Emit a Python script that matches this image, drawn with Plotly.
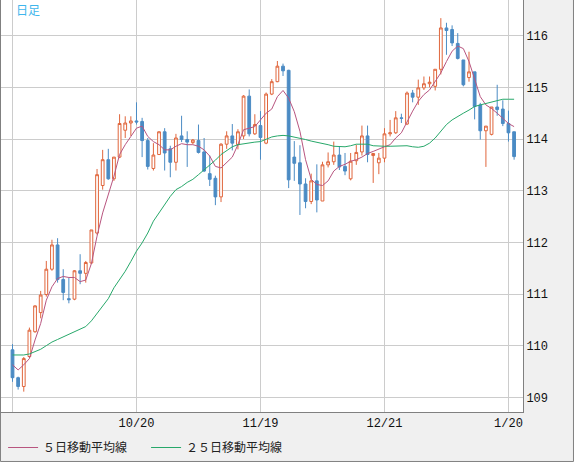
import plotly.graph_objects as go

# daily candles (index 0..89)
opens = [109.92, 109.38, 109.21, 109.79, 110.27, 110.64, 110.99, 111.48, 111.95, 111.28,
         110.91, 110.90, 111.45, 111.40, 111.60, 112.18, 113.10, 113.60, 113.23, 113.65,
         114.17, 114.31, 114.35, 114.34, 113.97, 113.43, 113.70, 114.14, 113.81, 113.55,
         114.06, 113.99, 113.93, 113.97, 113.75, 113.33, 113.24, 112.88, 113.90, 114.06,
         113.89, 114.06, 114.83, 114.10, 114.26, 113.92, 114.87, 115.11, 115.41, 115.33,
         113.65, 113.54, 113.13, 112.79, 113.19, 112.80, 113.50, 113.56, 113.69, 113.47,
         113.23, 113.58, 113.75, 114.06, 113.68, 113.54, 113.63, 114.10, 114.12, 114.41,
         114.29, 114.89, 114.81, 114.99, 115.07, 115.02, 115.35, 116.15, 116.12, 115.85,
         115.53, 115.19, 115.30, 114.66, 114.16, 114.09, 114.62, 114.58, 114.30, 114.14]
highs = [110.03, 109.40, 109.78, 110.35, 110.78, 111.06, 111.64, 112.05, 112.08, 111.48,
         111.32, 111.46, 111.77, 111.64, 112.24, 113.42, 113.79, 113.81, 113.65, 114.48,
         114.44, 114.44, 114.71, 114.41, 114.02, 113.92, 114.15, 114.21, 113.87, 114.10,
         114.45, 114.15, 114.00, 114.28, 114.02, 113.68, 113.29, 113.92, 114.15, 114.29,
         114.19, 114.85, 114.96, 114.48, 114.54, 114.90, 115.16, 115.51, 115.46, 115.34,
         113.96, 113.88, 113.24, 113.33, 113.51, 113.56, 113.74, 113.95, 113.86, 113.73,
         113.73, 113.89, 114.26, 114.26, 113.72, 113.73, 114.21, 114.37, 114.54, 114.49,
         114.92, 114.95, 115.15, 115.21, 115.21, 115.35, 116.34, 116.25, 116.20, 116.05,
         115.53, 115.69, 115.30, 114.70, 114.25, 114.62, 115.05, 114.75, 114.55, 114.14]
lows = [109.30, 109.15, 109.11, 109.76, 110.25, 110.53, 110.95, 111.45, 111.22, 110.88,
        110.82, 110.88, 111.19, 111.22, 111.58, 112.15, 113.02, 113.21, 113.19, 113.63,
        114.02, 114.06, 114.28, 113.65, 113.41, 113.39, 113.69, 113.39, 113.26, 113.39,
        113.94, 113.46, 113.90, 113.72, 113.36, 113.09, 112.72, 112.78, 113.81, 113.78,
        113.80, 114.00, 114.05, 114.08, 113.60, 113.90, 114.85, 115.10, 115.22, 113.05,
        113.19, 112.53, 112.66, 112.74, 112.58, 112.80, 113.45, 113.50, 113.40, 113.30,
        113.20, 113.50, 113.68, 113.55, 113.15, 113.32, 113.55, 114.05, 114.10, 114.31,
        114.27, 114.71, 114.66, 114.95, 115.00, 114.94, 115.25, 115.63, 115.80, 115.54,
        115.02, 115.11, 114.38, 113.99, 113.46, 114.07, 114.45, 114.25, 113.95, 113.60]
closes = [109.38, 109.21, 109.75, 110.30, 110.77, 110.98, 111.48, 111.95, 111.28, 111.03,
          110.89, 111.45, 111.40, 111.61, 112.24, 113.31, 113.60, 113.23, 113.65, 114.30,
          114.31, 114.35, 114.33, 113.97, 113.47, 113.69, 114.14, 113.73, 113.55, 114.02,
          113.99, 113.94, 113.98, 113.74, 113.38, 113.22, 112.88, 113.90, 114.06, 113.92,
          114.14, 114.83, 114.10, 114.28, 114.03, 114.87, 115.11, 115.41, 115.32, 113.21,
          113.53, 113.13, 112.79, 113.19, 112.82, 113.50, 113.56, 113.69, 113.46, 113.38,
          113.57, 113.74, 114.06, 113.70, 113.72, 113.63, 114.10, 114.12, 114.41, 114.40,
          114.89, 114.81, 114.99, 115.07, 115.10, 115.35, 116.15, 116.10, 115.86, 115.56,
          115.05, 115.30, 114.63, 114.16, 114.25, 114.62, 114.57, 114.30, 114.12, 113.66]

# moving averages as drawn on the chart
ma5 = [109.63, 109.53, 109.63, 109.75, 110.11, 110.43, 110.88, 111.14, 111.30, 111.34,
       111.32, 111.32, 111.24, 111.27, 111.59, 112.12, 112.57, 112.92, 113.28, 113.70,
       113.89, 114.05, 114.21, 114.25, 114.05, 113.95, 113.89, 113.79, 113.79, 113.86,
       113.91, 113.89, 113.89, 113.86, 113.79, 113.67, 113.47, 113.44, 113.54, 113.65,
       113.89, 114.18, 114.21, 114.24, 114.37, 114.50, 114.58, 114.82, 114.94, 114.79,
       114.53, 114.15, 113.60, 113.22, 113.12, 113.10, 113.19, 113.38, 113.47, 113.51,
       113.57, 113.60, 113.65, 113.72, 113.76, 113.81, 113.85, 113.89, 114.02, 114.12,
       114.34, 114.54, 114.73, 114.86, 114.95, 115.12, 115.28, 115.50, 115.70, 115.80,
       115.75, 115.50, 115.14, 114.82, 114.66, 114.59, 114.50, 114.40, 114.30, 114.24]
ma25 = [109.82, 109.82, 109.82, 109.84, 109.88, 109.93, 110.00, 110.07, 110.12, 110.17,
        110.21, 110.26, 110.31, 110.37, 110.48, 110.62, 110.77, 110.91, 111.12, 111.28,
        111.44, 111.63, 111.83, 111.99, 112.18, 112.41, 112.57, 112.73, 112.89, 113.02,
        113.08, 113.16, 113.22, 113.31, 113.40, 113.49, 113.59, 113.70, 113.78, 113.85,
        113.89, 113.91, 113.92, 113.94, 113.95, 113.99, 114.04, 114.06, 114.07, 114.06,
        114.04, 114.01, 113.99, 113.96, 113.94, 113.92, 113.89, 113.86, 113.85, 113.85,
        113.87, 113.90, 113.90, 113.90, 113.87, 113.86, 113.86, 113.86, 113.86, 113.87,
        113.87, 113.85, 113.84, 113.86, 113.92, 114.02, 114.15, 114.28, 114.37, 114.44,
        114.50, 114.56, 114.63, 114.66, 114.69, 114.72, 114.75, 114.77, 114.77, 114.77]

idx = list(range(len(closes)))

tick_pos = [0, 22, 44, 66, 88]
tick_text = ["", "10/20", "11/19", "12/21", "1/20"]
price_ticks = [109, 110, 111, 112, 113, 114, 115, 116]

UP = "#e0663c"
DOWN = "#4b8bc4"
MA5_COLOR = "#b8557f"
MA25_COLOR = "#27a86a"
GRID = "#cccccc"
EDGE = "#808080"

fig = go.Figure()
fig.add_trace(go.Candlestick(
    x=idx, open=opens, high=highs, low=lows, close=closes,
    increasing=dict(line=dict(color=UP, width=1), fillcolor="white"),
    decreasing=dict(line=dict(color=DOWN, width=1), fillcolor=DOWN),
    whiskerwidth=0, showlegend=False, hoverinfo="skip"))
fig.add_trace(go.Scatter(x=idx, y=ma5, mode="lines", name="５日移動平均線",
                         line=dict(color=MA5_COLOR, width=1)))
fig.add_trace(go.Scatter(x=idx, y=ma25, mode="lines", name="２５日移動平均線",
                         line=dict(color=MA25_COLOR, width=1)))

tick_font = dict(family="Liberation Mono, DejaVu Sans Mono", size=12, color="#111111")

fig.update_layout(
    width=574, height=462,
    margin=dict(l=1, r=51, t=0, b=50, pad=0),
    paper_bgcolor="#f0f0f0", plot_bgcolor="white",
    title=dict(text="日足", x=16 / 574, xref="container", xanchor="left",
               y=1 - 10.5 / 462, yref="container", yanchor="middle",
               font=dict(family="Noto Sans CJK JP", size=12, color="#3fb6ec")),
    xaxis=dict(range=[-2.04, 90.58], tickvals=tick_pos, ticktext=tick_text,
               showgrid=True, gridcolor=GRID, gridwidth=1, zeroline=False,
               showline=True, linecolor=EDGE, linewidth=1, ticks="",
               tickfont=tick_font, rangeslider=dict(visible=False)),
    yaxis=dict(range=[108.716, 116.691], side="right", tickvals=price_ticks,
               showgrid=True, gridcolor=GRID, gridwidth=1, zeroline=False,
               showline=True, mirror=True, linecolor=EDGE, linewidth=1, ticks="",
               tickfont=tick_font),
    legend=dict(orientation="h", x=0.004, xanchor="left", y=-0.087, yanchor="middle",
                bgcolor="rgba(0,0,0,0)", entrywidth=98, entrywidthmode="pixels",
                font=dict(family="Noto Sans CJK JP", size=12, color="#222222")),
    shapes=[dict(type="rect", xref="paper", yref="paper",
                 x0=-0.001, x1=1.0967, y0=-0.1201, y1=1.02,
                 line=dict(color=EDGE, width=1), layer="above")],
)

# drop the page's default body margin so the figure sits at the window corner
fig.write_html("out.html", config={"displayModeBar": False},
               post_script="document.body.style.margin='0';")
